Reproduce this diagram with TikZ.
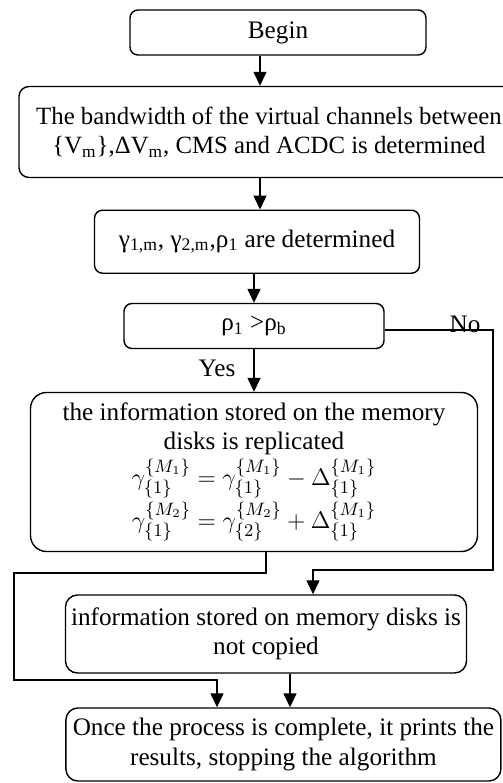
\documentclass[tikz,border=0pt]{standalone}
\usepackage{fontspec}
\setmainfont{Liberation Serif}
\usetikzlibrary{arrows.meta}
\begin{document}
\begin{tikzpicture}[x=0.5pt, y=-0.5pt,
  font=\fontsize{12.6}{14.6}\selectfont,
  blk/.style={draw, line width=0.7pt, rounded corners=#1, align=center,
              inner sep=0pt},
  blk/.default=4pt,
  arr/.style={-{Triangle[length=7pt, width=6.5pt]}, line width=0.7pt}
]
  \useasboundingbox (0,0) rectangle (503,783);
  \clip (0,0) rectangle (503,783);
  \node[blk, minimum width=148pt, minimum height=22.5pt] (begin) at (278,32.5) {Begin};
  \node[blk=5pt, minimum width=250pt, minimum height=45.5pt,
        font=\fontsize{12.4}{14.6}\selectfont] (bw) at (269,132)
       {The bandwidth of the virtual channels between\\
        \{V\textsubscript{m}\},ΔV\textsubscript{m}, CMS and ACDC is determined};
  \node[blk, minimum width=162.5pt, minimum height=31.5pt] (gam) at (257,241.7)
       {γ\textsubscript{1,m}, γ\textsubscript{2,m},ρ\textsubscript{1} are determined};
  \node[blk, minimum width=130pt, minimum height=22.5pt] (cmp) at (254,326)
       {ρ\textsubscript{1} >ρ\textsubscript{b}};
  \node[blk=8pt, minimum width=223.5pt, minimum height=79.5pt] (rep) at (254,472)
       {the information stored on the memory\\
        disks is replicated\\[1pt]
        $\gamma_{\{1\}}^{\{M_1\}} = \gamma_{\{1\}}^{\{M_1\}} - \Delta_{\{1\}}^{\{M_1\}}$\\[1pt]
        $\gamma_{\{1\}}^{\{M_2\}} = \gamma_{\{2\}}^{\{M_2\}} + \Delta_{\{1\}}^{\{M_1\}}$};
  \node[blk=6pt, minimum width=200.5pt, minimum height=39pt] (nocp) at (266,634)
       {information stored on memory disks is\\ not copied};
  \node[blk=6pt, minimum width=217.5pt, minimum height=36.5pt] (fin) at (283.4,744.5)
       {Once the process is complete, it prints the\\ results, stopping the algorithm};
  \node[anchor=base, inner sep=0pt] (no) at (465,332) {No};
  \node (yes) at (217,368) {Yes};
  \coordinate (a1) at (260,0);
  \coordinate (a2) at (254,0);
  \coordinate (a3) at (290,0);
  \coordinate (nR) at (493,570);
  \coordinate (nD) at (313,570);
  \coordinate (yA) at (266,573);
  \coordinate (yB) at (14,680);
  \coordinate (yC) at (217,680);
  \draw[arr] (begin.south -| a1) -- (bw.north -| a1);
  \draw[arr] (bw.south -| a1) -- (gam.north -| a1);
  \draw[arr] (gam.south -| a2) -- (cmp.north -| a2);
  \draw[arr] (cmp.south -| a2) -- (rep.north -| a2);
  \draw[arr] (nocp.south -| a3) -- (fin.north -| a3);
  \draw[arr] ([yshift=-2pt]cmp.east) -| (nR) -- (nD) -- (nocp.north -| nD);
  \draw[arr] (rep.south -| yA) -- (yA) -| (yB) -- (yC) -- (fin.north -| yC);
\end{tikzpicture}
\end{document}
